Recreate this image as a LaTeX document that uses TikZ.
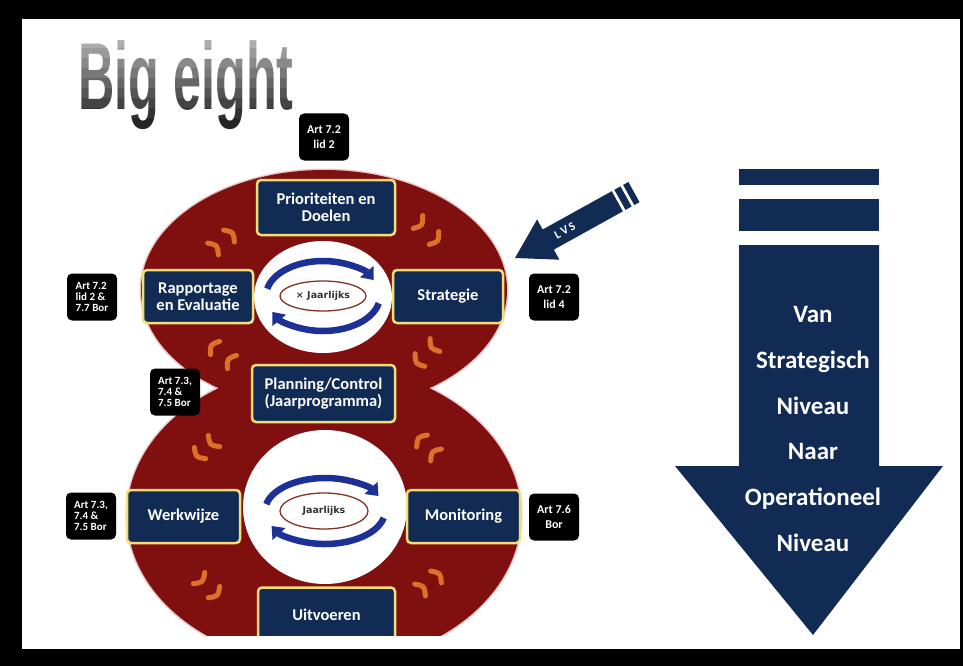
\documentclass[tikz,border=0pt]{standalone}
\usepackage{fontspec}
\setmainfont{Carlito}
\newfontfamily\titlefont[FakeStretch=0.53]{Liberation Sans}
\newfontfamily\smallfont{DejaVu Sans}
\usetikzlibrary{arrows.meta,shapes.geometric}
\definecolor{navy}{RGB}{17,43,84}
\definecolor{boxyellow}{RGB}{245,222,120}
\definecolor{ringred}{RGB}{128,16,16}
\definecolor{ringedge}{RGB}{235,200,200}
\definecolor{ormk}{RGB}{222,112,40}
\definecolor{cycblue}{RGB}{28,48,150}
\definecolor{ellbrown}{RGB}{130,50,40}
\tikzset{
  navybox/.style={draw=boxyellow, line width=2.5pt, fill=navy, rounded corners=4pt,
    text=white, font=\bfseries\fontsize{16.5}{16.5}\selectfont, align=center, inner sep=0pt},
  lawbox/.style={fill=black, rounded corners=5pt, text=white, inner sep=0pt,
    minimum width=50pt, minimum height=47pt},
  lawtwo/.style={lawbox, align=center, font=\bfseries\fontsize{12}{14.5}\selectfont},
  lawthree/.style={lawbox, align=left, font=\bfseries\fontsize{11}{10.8}\selectfont},
  ormark/.style={draw=ormk, line width=5pt, line cap=round},
  cyc/.style={draw=cycblue, line width=6.5pt, -{Triangle[width=17pt,length=11pt]}},
  smallell/.style={draw=ellbrown, line width=1.3pt, fill=white},
  arrtext/.style={text=white, font=\bfseries\fontsize{25}{25}\selectfont, anchor=base},
  titlestyle/.style={anchor=base west, inner sep=0pt, font=\titlefont\bfseries\fontsize{95}{95}\selectfont}
}
\newcommand\orm[3]{\draw[ormark,shift={(#1,#2)},rotate=#3] (-8,0) .. controls (0,-6) .. (8,0);}
\begin{document}
\begin{tikzpicture}[x=1pt,y=-1pt]
\useasboundingbox (0,0) rectangle (963,666);
% frame
\fill[black] (0,0) rectangle (963,666);
\fill[white] (22,19) rectangle (960,649);
% title: dark text, lightened towards the top by white bands
\node[titlestyle, text=black!85] (title) at (78,110) {Big eight};
\foreach \i in {0,...,7}{
  \pgfmathsetmacro\op{0.62-0.08*\i}
  \fill[white, fill opacity=\op] (70,{38+10*\i}) rectangle (300,{48+10*\i});
}
% figure eight
\begin{scope}
  \clip (0,0) rectangle (963,635);
  \draw[line width=3pt, ringedge] (324,290) ellipse[x radius=183, y radius=120]
     (324,515) ellipse[x radius=197, y radius=150];
  \fill[ringred] (324,290) ellipse[x radius=183, y radius=120]
     (324,515) ellipse[x radius=197, y radius=150];
  \fill[white] (323,297) ellipse[x radius=69, y radius=56];
  \fill[white] (325,507) ellipse[x radius=82, y radius=77];
  % orange motion marks
  \orm{213}{249}{-48}\orm{229}{236}{-48}
  \orm{418}{222}{-126}\orm{434}{238}{-126}
  \orm{215}{348}{56}\orm{232}{362}{56}
  \orm{420}{360}{127}\orm{435}{345}{127}
  \orm{200}{453}{135}\orm{214}{441}{135}
  \orm{422}{441}{48}\orm{436}{455}{48}
  \orm{199}{578}{-135}\orm{214}{592}{-135}
  \orm{420}{590}{-48}\orm{436}{577}{-48}
  % cycle arrows top
  \draw[cyc] ([shift={(192:57 and 35)}]323,296) arc[start angle=192, end angle=333, x radius=57, y radius=35];
  \draw[cyc] ([shift={(12:57 and 35)}]323,296) arc[start angle=12, end angle=153, x radius=57, y radius=35];
  \node[smallell, ellipse, minimum width=86pt, minimum height=30pt, inner sep=0pt,
        font=\smallfont\bfseries\fontsize{9.5}{9.5}\selectfont, text=black!80] (e1) at (323,296) {× Jaarlijks};
  % cycle arrows bottom
  \draw[cyc] ([shift={(192:60 and 33)}]325,511) arc[start angle=192, end angle=333, x radius=60, y radius=33];
  \draw[cyc] ([shift={(12:60 and 33)}]325,511) arc[start angle=12, end angle=153, x radius=60, y radius=33];
  \node[smallell, ellipse, minimum width=88pt, minimum height=36pt, inner sep=0pt,
        font=\smallfont\bfseries\fontsize{9.5}{9.5}\selectfont, text=black!80] (e2) at (324,511) {Jaarlijks};
  % boxes
  \node[navybox, minimum width=138pt, minimum height=55pt] (prio) at (326,207.5) {Prioriteiten en\\Doelen};
  \node[navybox, minimum width=110pt, minimum height=53pt] (rapp) at (198,296.5) {Rapportage\\en Evaluatie};
  \node[navybox, minimum width=110pt, minimum height=53pt] (strat) at (448,296.5) {Strategie};
  \node[navybox, minimum width=143pt, minimum height=57pt] (plan) at (323.5,393.5) {Planning/Control\\(Jaarprogramma)};
  \node[navybox, minimum width=113pt, minimum height=53pt] (werk) at (183.5,516.5) {Werkwijze};
  \node[navybox, minimum width=113pt, minimum height=53pt] (moni) at (463.5,516.5) {Monitoring};
  \node[navybox, minimum width=137pt, minimum height=55pt] (uitv) at (326.5,615) {Uitvoeren};
\end{scope}
% law labels
\node[lawtwo] (l1) at (324,137) {Art 7.2\\lid 2};
\node[lawthree] (l2) at (92,297) {Art 7.2\\lid 2 \&\\7.7 Bor};
\node[lawtwo] (l3) at (554,297) {Art 7.2\\lid 4};
\node[lawthree] (l4) at (175,392) {Art 7.3,\\7.4 \&\\7.5 Bor};
\node[lawthree] (l5) at (91,516) {Art 7.3,\\7.4 \&\\7.5 Bor};
\node[lawtwo] (l6) at (554,517) {Art 7.6\\Bor};
% LVS arrow
\begin{scope}[shift={(515,258)}, rotate=29]
  \fill[navy] (0,0) -- (38,-23) -- (38,-11.5) -- (117,-11.5) -- (117,11.5) -- (38,11.5) -- (38,23) -- cycle;
  \fill[navy] (120,-11.5) rectangle (127,11.5);
  \fill[navy] (130,-11.5) rectangle (136,11.5);
  \node[rotate=29, text=white, font=\bfseries\fontsize{12}{12}\selectfont] (lvs) at (57,0) {L\,V\,S};
\end{scope}
% right arrow
\fill[navy] (739,169) rectangle (879,185);
\fill[navy] (739,199) rectangle (879,231);
\fill[navy] (739,245) -- (879,245) -- (879,466) -- (943,466) -- (813,635) -- (675,466) -- (739,466) -- cycle;
\node[arrtext] (t1) at (813,322) {Van};
\node[arrtext] (t2) at (813,368) {Strategisch};
\node[arrtext] (t3) at (813,414) {Niveau};
\node[arrtext] (t4) at (813,459) {Naar};
\node[arrtext] (t5) at (813,505) {Operationeel};
\node[arrtext] (t6) at (813,551) {Niveau};
\end{tikzpicture}
\end{document}
